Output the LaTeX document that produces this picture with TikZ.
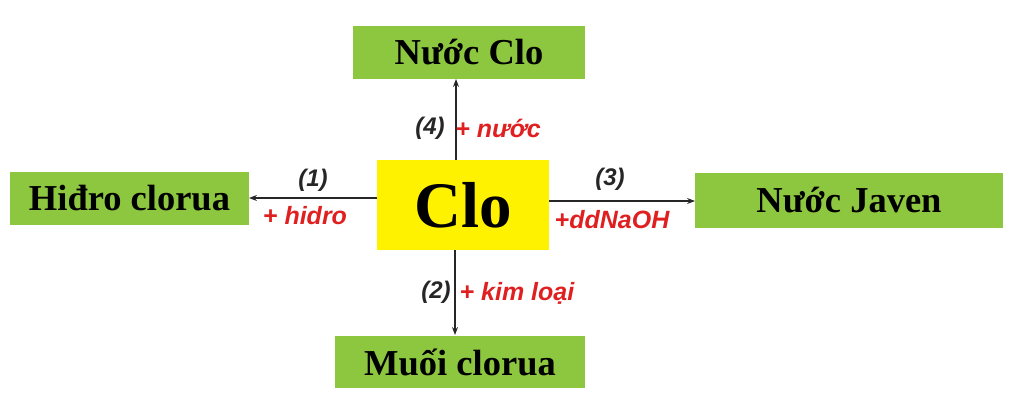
\documentclass[tikz,border=0pt]{standalone}
\usepackage{fontspec}
\setmainfont{Liberation Serif}
\newfontfamily\lblfont{Liberation Sans}
\usetikzlibrary{arrows.meta}
\definecolor{boxgreen}{RGB}{141,198,63}
\definecolor{lblred}{RGB}{224,32,32}
\tikzset{
  prodbox/.style={fill=boxgreen, draw=none, inner sep=0pt, font=\bfseries\fontsize{36.5}{40}\selectfont},
  conn/.style={draw=black!85, line width=1.1pt, -{Stealth[length=8pt,width=6pt]}},
  num/.style={font=\lblfont\bfseries\itshape\fontsize{24}{28}\selectfont, text=black!85, inner sep=0pt},
  reag/.style={font=\lblfont\bfseries\itshape\fontsize{25}{28}\selectfont, text=lblred, inner sep=0pt}
}
\begin{document}
\begin{tikzpicture}[x=1pt,y=-1pt]
\useasboundingbox (0,0) rectangle (1024,412);
\node[fill=yellow, minimum width=172pt, minimum height=90pt, inner sep=0pt, font=\bfseries\fontsize{65}{70}\selectfont] (clo) at (463,205) {Clo};
\node[prodbox, minimum width=232pt, minimum height=53pt] (nuocclo) at (469,52.5) {Nước Clo};
\node[prodbox, minimum width=239pt, minimum height=53pt] (hidro) at (129.5,198.5) {Hiđro clorua};
\node[prodbox, minimum width=308pt, minimum height=55pt] (javen) at (849,200.5) {Nước Javen};
\node[prodbox, minimum width=250pt, minimum height=52pt] (muoi) at (460,362) {Muối clorua};
\coordinate (upS) at (456,160);
\coordinate (upE) at (456,79);
\coordinate (dnS) at (455,250);
\coordinate (dnE) at (455,335);
\coordinate (lfS) at (377,198);
\coordinate (lfE) at (249,198);
\coordinate (rtS) at (549,201);
\coordinate (rtE) at (695,201);
\draw[conn] (upS) -- (upE);
\draw[conn] (dnS) -- (dnE);
\draw[conn] (lfS) -- (lfE);
\draw[conn] (rtS) -- (rtE);
\node[num] (n4) at (430,128) {(4)};
\node[reag] (r4) at (498,128) {+ nước};
\node[num] (n1) at (313,180) {(1)};
\node[reag] (r1) at (305,216) {+ hidro};
\node[num] (n3) at (610,179) {(3)};
\node[reag] (r3) at (612,220) {+ddNaOH};
\node[num] (n2) at (436,292) {(2)};
\node[reag] (r2) at (517,293) {+ kim loại};
\end{tikzpicture}
\end{document}
